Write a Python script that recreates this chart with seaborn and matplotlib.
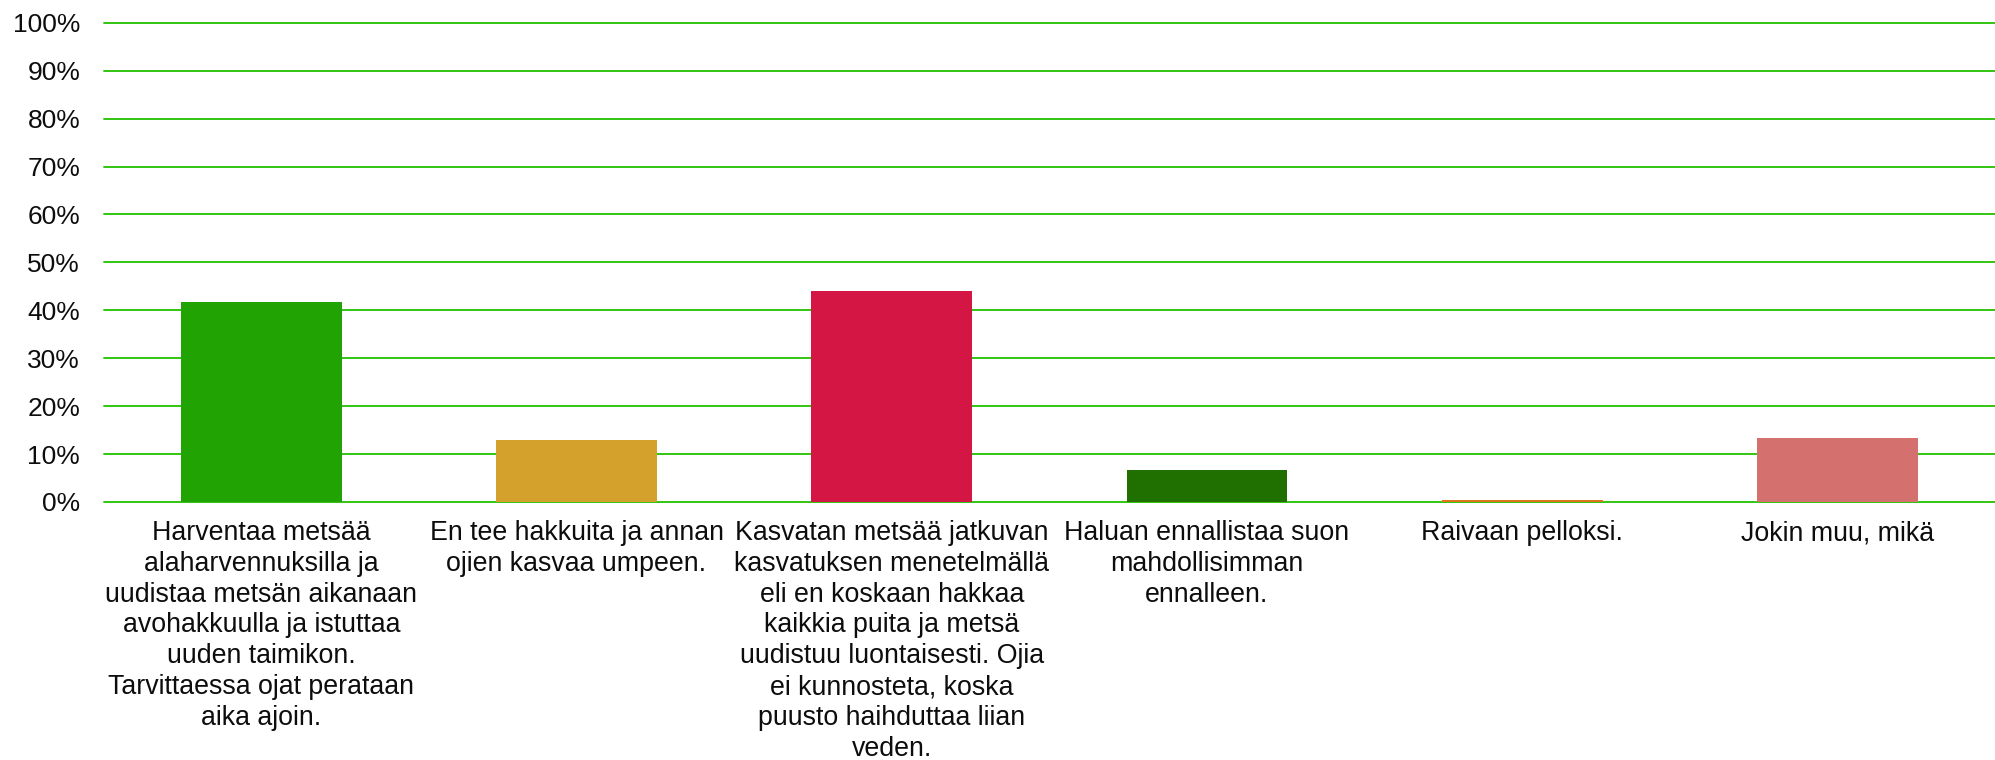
import matplotlib
matplotlib.use('Agg')
import matplotlib.pyplot as plt
import seaborn as sns
import pandas as pd
from matplotlib.ticker import PercentFormatter

# Data
categories = [
    "Harventaa metsää\nalaharvennuksilla ja\nuudistaa metsän aikanaan\navohakkuulla ja istuttaa\nuuden taimikon.\nTarvittaessa ojat perataan\naika ajoin.",
    "En tee hakkuita ja annan\nojien kasvaa umpeen.",
    "Kasvatan metsää jatkuvan\nkasvatuksen menetelmällä\neli en koskaan hakkaa\nkaikkia puita ja metsä\nuudistuu luontaisesti. Ojia\nei kunnosteta, koska\npuusto haihduttaa liian\nveden.",
    "Haluan ennallistaa suon\nmahdollisimman\nennalleen.",
    "Raivaan pelloksi.",
    "Jokin muu, mikä",
]
shares = [41.8, 12.9, 44.0, 6.7, 0.4, 13.4]
colors = ["#21A304", "#D4A22C", "#D41645", "#1F7000", "#E07418", "#D4706D"]
yticks = list(range(0, 101, 10))

df = pd.DataFrame({"vastaus": categories, "osuus": shares})

sns.set_style("white")
plt.rcParams['font.family'] = ['Liberation Sans', 'DejaVu Sans']

fig = plt.figure(figsize=(19.95, 7.6), dpi=100)
ax = fig.add_axes([0.052, 0.3395, 0.948, 0.6305])

# gridlines first so bars sit on top
for t in yticks:
    ax.axhline(t, color="#22C000", linewidth=1.3, zorder=0, clip_on=False)

sns.barplot(data=df, x="vastaus", y="osuus", hue="vastaus", palette=colors,
            legend=False, width=0.51, saturation=1, ax=ax, zorder=2,
            edgecolor="none", linewidth=0)

ax.set_ylim(0, 100)
ax.set_yticks(yticks)
ax.yaxis.set_major_formatter(PercentFormatter(decimals=0))
ax.set_xlim(-0.5, len(categories) - 0.5)
ax.set_xlabel("")
ax.set_ylabel("")
for s in ax.spines.values():
    s.set_visible(False)
ax.tick_params(axis="y", length=0, pad=17, labelsize=19, labelcolor="#0d0d0d")
ax.tick_params(axis="x", length=0, pad=13, labelsize=19.3, labelcolor="#0d0d0d")
for lab in ax.get_xticklabels():
    lab.set_horizontalalignment("center")
    lab.set_multialignment("center")
    lab.set_linespacing(1.24)

plt.savefig("out.png", dpi=100)
